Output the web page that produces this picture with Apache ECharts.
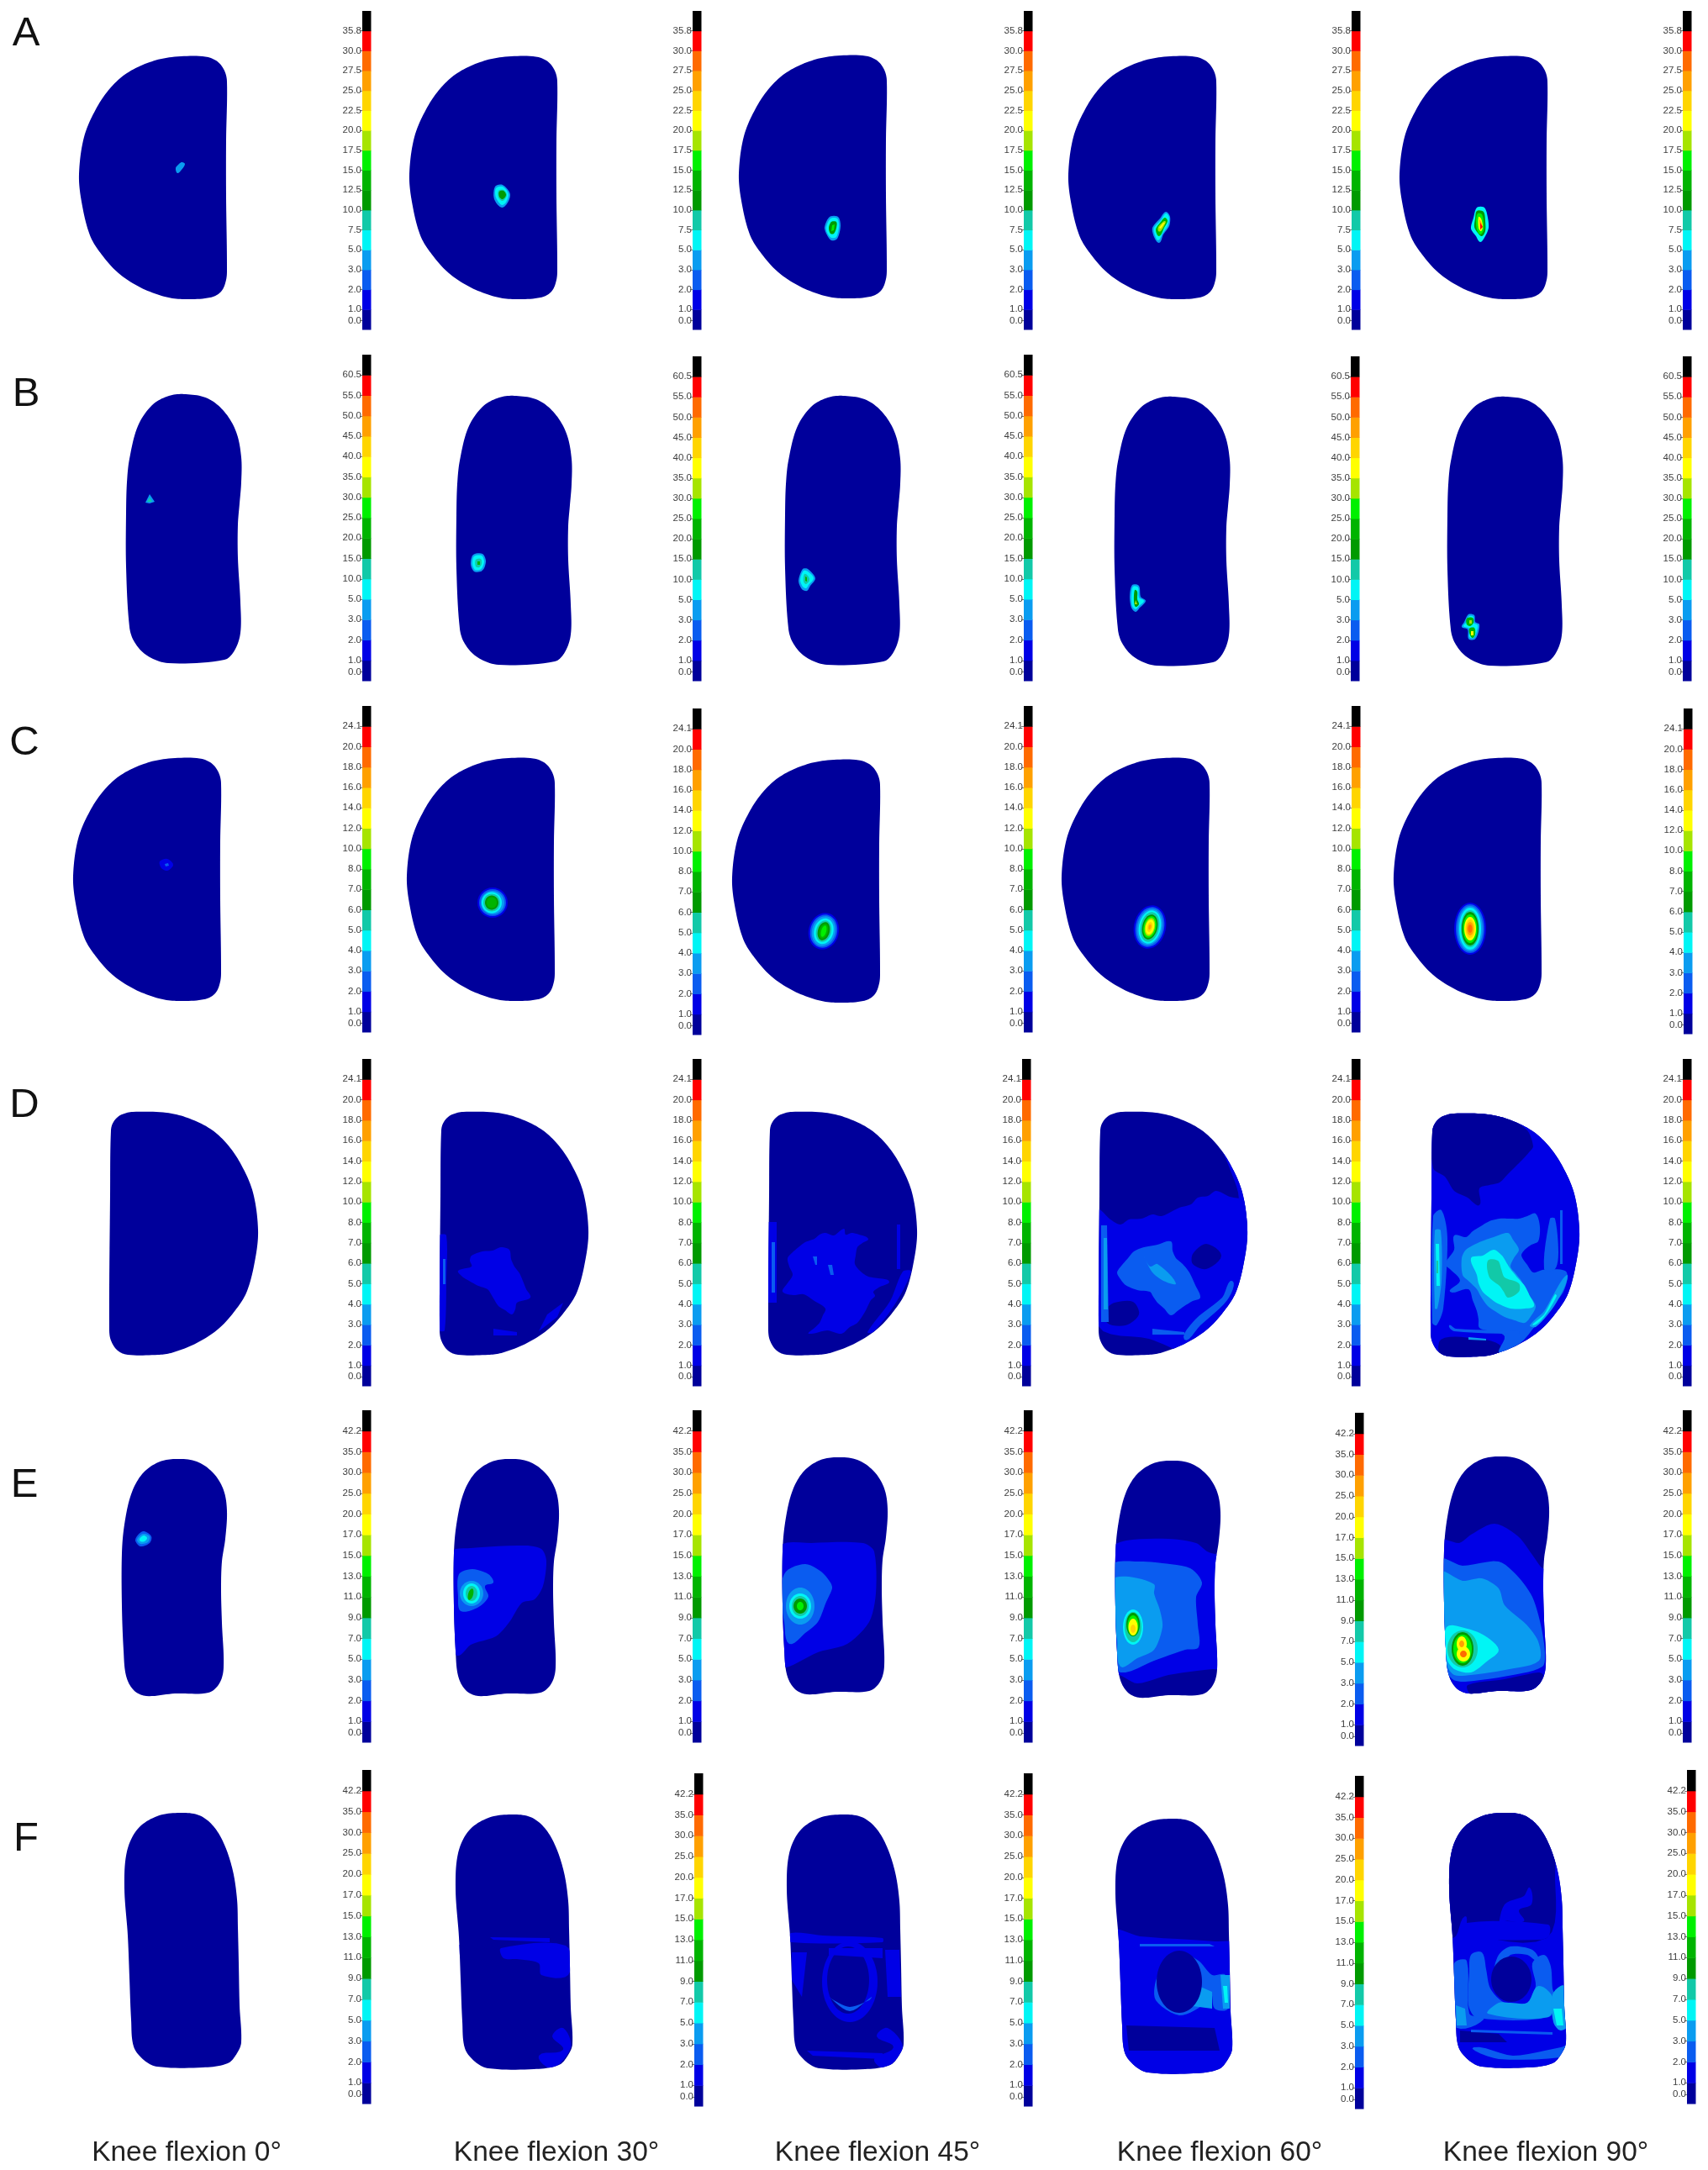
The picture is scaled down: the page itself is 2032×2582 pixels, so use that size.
<!DOCTYPE html>
<html>
<head>
<meta charset="utf-8">
<title>Knee flexion contact pressure maps</title>
<script src="https://cdn.jsdelivr.net/npm/echarts@6/dist/echarts.min.js"></script>
<style>
html,body{margin:0;padding:0;background:#fff}
#chart{width:2032px;height:2582px;filter:blur(0.6px)}
</style>
</head>
<body>
<div id="chart"></div>
<script>
// ---------- text ----------
const rowLetters = ['A','B','C','D','E','F'];
const columnTitles = ['Knee flexion 0°','Knee flexion 30°','Knee flexion 45°','Knee flexion 60°','Knee flexion 90°'];

// ---------- scale tick labels (top to bottom) ----------
const ticksA = ['35.8','30.0','27.5','25.0','22.5','20.0','17.5','15.0','12.5','10.0','7.5','5.0','3.0','2.0','1.0','0.0'];
const ticksB = ['60.5','55.0','50.0','45.0','40.0','35.0','30.0','25.0','20.0','15.0','10.0','5.0','3.0','2.0','1.0','0.0'];
const ticksCD = ['24.1','20.0','18.0','16.0','14.0','12.0','10.0','8.0','7.0','6.0','5.0','4.0','3.0','2.0','1.0','0.0'];
const ticksEF = ['42.2','35.0','30.0','25.0','20.0','17.0','15.0','13.0','11.0','9.0','7.0','5.0','3.0','2.0','1.0','0.0'];
const levelColors = ['#00009b','#0000e6','#0a5cf0','#0a9cf0','#00f5f5','#12c9a8','#009a00','#00b400','#00f000','#a6e400','#ffff00','#ffd500','#ffa000','#ff6a00','#ff0000','#000000'];

// ---------- outlines ----------
const outlineHalf = [147,0,163,5,172.5,16,176,30,175,100,175,167,176,250,175,266,169,280,156,287,125,289,102,286,73,275,47,258,27,236,13,213,3,173,0,140,6,96,20,63,37,38,57,20,84,7,110,1];
const outlineHalfR = [2,22,1,99,0,259,2,272,10,284,22,289,58,289,75,286.5,104,275,130,258,150,236,164,213,174,173,177,140,171,96,157,63,140,38,120,20,93,7,68,1,28,0,13,4,5,12];
const outlineB = [71,0,97,5,117,21,131,45,137,75,137,105,135,130,133,155,133,195,136,248,136,284,129,305,117,316,50,320,25,311,10,295,4,277,0,205,0,141,1,105,4,77,14,38,31,13,51,2];
const outlineE = [63,0,89,3,109,17,121,37,125,62,123,95,119,122,118,155,119,195,121,248,116,267,103,278,63,279,29,282,14,275,5,258,2,228,0,175,0,112,3,78,11,42,24,18,43,4];
const outlineF = [66,0,89,3,106,16,119,38,129,69,134,103,135,136,136,179,137,229,139,273,134,286,123,298,93,303,39,302,23,294,11,278,8,246,6,196,4,146,0,89,3,46,16,19,39,4];

// ---------- contour regions: [level,[x,y,...]] polygons or [level,cx,cy,rx,ry,deg] ellipses ----------
const regA1 = [[3,[122,126,126,128,122,135,117,139,115,133,118,129]]];
const regA2 = [[3,[102,155,111,153,120,165,111,180,101,170]],[4,[103,157,111,155,118,165,111,177,103,168]],[5,[106,160,112,159,116,165,111,172,106,168]],[6,[107,161,112,160,115,165,111,170,107,167]]];
const regA3 = [[3,[108,192,118,192,121,203,117,218,110,220,104,212,102,204]],[4,[109,194,117,194,119,203,116,216,110,217,105,211,104,204]],[6,[110,198,116,198,116,205,113,212,109,212,107,205]],[8,[111,202,114,201,113,208,110,209]]];
const regA4 = [[3,[116,185,121,191,120,202,113,212,108,222,102,215,100,204,109,193]],[4,[116,187,120,192,118,202,112,211,107,219,103,213,102,204,110,195]],[7,[115,192,118,196,114,204,108,214,104,206,110,197]],[9,[114,196,116,197,110,208,107,208,107,203]],[10,[113,198,115,198,110,205,108,204]]];
const regA5 = [[4,[92,180,101,180,105,192,106,204,102,214,96,221,91,214,85,205,88,192]],[6,[92,184,100,185,102,196,102,208,98,214,93,210,89,203,90,193]],[8,[93,187,98,188,100,198,100,207,96,212,92,206,91,196]],[10,[94,191,97,193,99,202,97,208,94,204]],[12,[95,194,97,197,99,203,96,207]],[14,[96,198,99,203,96,206]]];

const regB1 = [[3,[28,119,34,128,28,130,23,129]],[5,[28,123,31,128,25,128]]];
const regB2 = [[3,[20,189,31,188,35,196,33,205,29,209,21,209,17,200]],[4,[21,191,30,190,33,197,31,204,28,207,22,207,19,200]],[5,[23,195,29,194,30,200,27,204,23,203]],[7,[25,197,28,197,28,201,25,201]]];
const regB3 = [[3,[21,206,27,206,36,217,30,226,26,232,20,230,16,220]],[4,[22,208,27,209,34,217,28,225,25,229,21,227,18,219]],[5,[23,212,27,214,29,219,25,224,22,221]],[7,[24,215,26,216,26,221,24,220]]];
const regB4 = [[3,[21,224,29,225,31,238,37,243,30,251,25,256,20,251,18,238]],[4,[22,226,28,227,29,239,35,243,29,249,25,253,21,249,20,238]],[6,[24,230,27,232,27,241,29,247,25,250,23,243]],[9,[25,242,27,247,24,247]]];
const regB5 = [[3,[25,259,32,260,33,268,38,271,36,283,32,289,25,288,24,277,17,274,20,268]],[4,[26,261,31,262,31,269,36,272,34,282,31,287,26,286,26,276,19,273,22,269]],[7,[23,264,30,263,31,269,27,273,23,271]],[7,[26,276,32,275,33,283,30,287,27,284]],[9,[26,266,29,266,29,270,26,270]],[10,[28,279,31,279,31,284,28,284]]];

const regC1 = [[1,[103,123,112,120,119,127,112,134,105,131]],[2,[109,126,113,125,114,128,110,129]]];
const regC2 = [[1,102,172,18,18,0],[2,102,172,16,16,0],[3,102,172,14,14,0],[4,101,172,12,12.5,0],[5,101,172,10,10.5,0],[6,101,172,8,8.5,0],[7,101,172,6,6.5,0]];
const regC3 = [[1,109,204,18,22,15],[2,109,204,16,20,15],[3,109,204,14,18,15],[4,109,204,11.5,15.5,15],[5,109,204,9,13,15],[6,109,204,7,11,15],[7,109,204,5,9,15],[8,109,204,3,7,15]];
const regC4 = [[1,105,201,19,26,12],[2,105,201,17,24,12],[3,105,201,15,22,12],[4,105,201,13,20,12],[5,105,201,11,18,12],[6,105,201,9,15,12],[8,105,201,7.5,13,12],[9,105,201,6,11,12],[10,105,201,5,9,12],[11,105,201,3,6,12],[12,105,201,1.5,3,12]];
const regC5 = [[1,91,203,19,31,0],[2,91,203,17,29,0],[3,91,203,15,27,0],[4,91,203,13,25,0],[5,91,203,11,22,0],[6,91,203,10,20,0],[8,91,203,8.5,17,0],[10,91,203,7,14,0],[11,91,203,5.5,11,0],[12,91,203,4,8,0],[13,91,203,2.5,5,0]];

const regD1 = [];
const regD2 = [[1,[73,161,83,164,85,175,89,184,95,192,99,201,103,211,108,221,92,227,90,235,86,241,78,236,70,231,63,220,57,211,46,207,35,201,27,196,22,189,38,184,36,177,38,171,51,166,63,165]],[1,[0,147,8,147,8,200,6,260,0,260]],[2,[4,175,7,175,7,205,4,205]],[1,[128,241,147,227,140,244,118,261]],[1,[64,258,92,262,92,266,64,266]]];
const regD3 = [[1,[68,144,78,147,90,139,92,146,99,144,108,146,119,151,112,156,106,161,104,171,103,181,110,190,119,196,131,198,144,202,133,208,125,214,127,219,122,224,115,238,106,251,97,256,87,264,70,260,48,264,55,257,61,251,65,242,68,234,55,225,42,217,30,218,17,214,22,205,29,194,25,184,23,174,29,167,36,161,44,155,55,151,61,146]],[1,[0,131,10,131,10,227,0,227]],[2,[4,155,8,155,8,215,4,215]],[2,[53,172,58,172,58,182,56,182]],[2,[71,182,76,182,78,194,74,194]],[1,[153,134,157,134,157,187,153,187]],[1,[160,190,170,190,150,230,125,262,118,262,145,225]]];
const regD4 = [[1,[0,117,14,128,26,134,36,128,51,127,64,122,75,124,96,114,110,110,118,102,130,100,140,94,156,101,185,110,185,300,115,300,95,285,60,270,0,255]],[1,[134,25,145,42,155,65,166,96,170,140,185,140,185,10]],[0,[112,169,128,157,146,171,128,187,112,181]],[0,[19,227,41,226,48,241,32,254,10,251,10,234]],[2,[54,161,70,158,86,154,88,165,92,174,100,181,108,191,115,206,121,221,112,225,102,231,95,236,86,242,78,234,70,227,65,220,61,214,46,212,32,206,26,199,22,191,28,182,35,174,42,166]],[3,[54,172,61,184,70,181,92,204,77,201,64,191]],[2,[3,135,10,135,12,250,3,250]],[3,[6,150,10,150,11,235,6,235]],[2,[159,201,147,221,115,247,102,271,121,254,153,224]],[2,[64,258,102,262,102,265,64,265]]];
const regD5 = [[1,[-5,-5,185,-5,185,295,-5,295]],[0,[3,-3,48,-3,88,3,115,20,122,39,118,45,110,54,102,62,92,72,82,82,70,85,58,89,58,109,44,100,28,92,17,75,3,65]],[0,[12,269,48,267,82,275,78,291,15,293]],[2,[28,145,42,147,50,140,58,135,70,128,82,125,95,125,105,125,115,122,125,119,130,135,128,152,120,156,112,162,108,169,115,180,122,189,133,186,145,185,162,189,158,212,142,232,125,252,108,272,82,285,88,265,72,259,58,255,57,245,55,235,50,222,45,209,23,212,35,199,23,185,17,179,28,162]],[2,[142,125,148,125,152,165,148,185,135,185]],[2,[3,122,13,115,20,149,15,232,7,252,2,249]],[3,[5,139,12,139,13,199,8,232,5,232]],[4,[6,155,10,155,11,205,7,205]],[5,[7,175,9,175,9,190,7,190]],[3,[42,162,58,153,75,147,92,142,98,150,105,162,99,172,95,182,101,190,108,199,116,214,125,229,120,240,112,249,100,246,88,242,78,236,68,229,60,218,55,209,46,200,38,192,37,172]],[4,[48,172,62,169,75,162,85,169,90,177,95,185,104,196,112,205,118,217,123,229,112,232,95,232,78,225,70,219,62,212,57,202,55,192]],[5,[68,175,80,175,84,185,88,195,105,202,105,212,92,219,87,212,82,205,70,195]],[3,[162,192,148,212,135,235,118,252,125,254,145,232,160,205]],[4,[148,215,135,239,122,252,137,239,150,217]],[2,[22,252,28,259,105,262,105,259,30,256]],[2,[154,115,157,115,157,179,154,179]],[3,[45,266,66,268,66,270,45,269]]];

const regE1 = [[2,[16,96,25,86,35,92,33,100,22,104]],[3,[18,96,25,89,33,92,31,99,22,101]],[4,[21,95,26,91,30,94,27,98,22,98]]];
const regE2 = [[1,[-3,111,20,106,85,103,104,107,110,121,106,151,96,167,81,171,66,194,50,211,20,221,6,234,-3,227]],[2,[6,137,22,131,41,137,47,147,37,151,41,164,28,177,8,181,5,164]],[3,21,160,14,15,0],[4,21,160,10,12,0],[5,21,160,7,9,0],[7,20,161,3,7,15]];
const regE3 = [[1,[-3,107,34,102,96,102,109,112,111,162,103,196,77,222,42,232,8,249,-3,249]],[2,[4,136,27,127,46,136,57,149,59,156,52,172,42,196,27,209,8,222,2,196,-3,162]],[3,21,177,17,22,0],[4,21,177,13,15,0],[5,21,177,10,12,0],[6,21,177,8,9,0],[8,21,177,4,5,0]];
const regE4 = [[1,[-5,105,13,95,63,93,96,98,109,108,135,120,135,248,116,248,63,255,26,265,5,255,-5,255]],[2,[-5,125,29,120,56,122,89,128,103,145,96,162,98,195,99,222,83,225,46,238,6,252,-5,228]],[3,[-5,142,16,138,46,147,46,158,53,178,56,198,46,225,26,235,6,245,2,212,-5,175]],[4,21,198,12,21,0],[5,21,198,10,18,0],[6,21,195,8,14,0],[8,21,196,6.5,12,0],[10,21,198,5.5,10,0],[11,21,200,3,5,0]];
const regE5 = [[1,[-5,100,18,103,32,93,60,80,88,95,105,117,117,133,135,140,135,300,-5,300]],[0,[28,272,72,265,112,257,118,260,112,273,95,280,32,283]],[2,[-5,123,22,130,65,125,88,143,105,167,115,200,120,233,117,250,82,260,25,268,10,265,-5,243]],[3,[-5,138,22,148,45,145,65,157,72,177,98,200,112,220,113,243,78,253,32,260,12,260,3,247]],[4,[3,203,28,205,48,213,65,230,52,243,32,257,12,253,3,240]],[5,22,229,18,22,0],[6,22,229,13,20,0],[8,22,229,11,17,0],[10,21,223,6,9,0],[10,23,235,8,9,0],[12,21,223,3,4,0],[13,23,235,4,4,0]];

const regF1 = [];
const regF2 = [[1,[41,146,112,147,112,152,45,149]],[1,[54,159,131,156,134,191,102,191,99,177,73,172,57,171]],[1,[0,155,5,155,5,175,0,175]],[1,[128,254,137,277,115,302,99,287,128,280,115,264]]];
const regF3 = [[1,[5,141,43,144,114,147,114,152,5,152]],[1,75,199,33,48,0],[0,73,197,25,40,0],[1,[50,159,114,159,114,171,50,167]],[1,[117,161,134,161,136,217,120,217]],[1,[6,164,24,164,18,217,6,197]],[2,[50,217,75,234,101,217,98,221,75,229,56,221]],[1,[24,281,114,284,114,291,31,287]],[1,[120,254,138,277,117,302,104,291,127,277,107,264]]];
const regF4 = [[1,[-5,134,29,140,118,146,145,150,145,310,-5,310]],[0,[13,246,118,249,124,276,16,276]],[2,[61,169,76,159,99,169,115,186,131,186,134,226,118,226,112,206,102,223,76,234,48,216,48,193]],[3,[99,199,115,206,115,226,92,223]],[3,[125,186,136,186,136,226,128,226]],[4,[128,199,133,199,134,219,130,219]],[0,76,194,27,37,0],[2,[29,149,112,149,118,152,29,152]]];
const regF5 = [[1,[-5,-5,145,-5,145,310,-5,310]],[0,[-5,-5,113,-5,126,79,116,149,23,143,19,123,5,149,-5,129]],[1,[66,109,89,99,96,89,98,109,83,116,89,129,66,129,59,139]],[1,[21,131,118,133,119,146,109,151,26,148]],[2,[6,179,21,176,24,239,41,246,9,256,6,229]],[2,[24,189,26,169,39,166,44,186,49,209,66,226,93,226,103,206,99,179,113,169,121,183,123,209,126,219,119,243,33,244,23,229]],[2,[59,169,73,159,99,163,106,176,93,169,73,169,56,186]],[3,[46,239,59,226,73,226,93,226,106,206,123,219,118,243]],[3,[8,229,19,233,21,253,9,253]],[3,[123,216,137,206,145,249,133,259,124,249]],[4,[124,233,134,233,136,253,128,253]],[0,74,198,24,27,0],[0,[13,259,59,263,69,273,13,273]],[2,[26,258,123,261,123,264,26,261]],[2,[29,279,76,289,133,279,145,276,145,289,59,293]]];

const rowRegions = [[regA1,regA2,regA3,regA4,regA5],[regB1,regB2,regB3,regB4,regB5],[regC1,regC2,regC3,regC4,regC5],[regD1,regD2,regD3,regD4,regD5],[regE1,regE2,regE3,regE4,regE5],[regF1,regF2,regF3,regF4,regF5]];
const rowOutlines = [outlineHalf,outlineB,outlineHalf,outlineHalfR,outlineE,outlineF];
const rowTicks = [ticksA,ticksB,ticksCD,ticksCD,ticksEF,ticksEF];

// ---------- layout ----------
const shapeLayout = {
  extent: [[177,290],[137,320],[177,290],[178,290],[125,282],[139,304]],
  left: [[94,487,879,1271,1665],[150,543,934,1326,1722],[87,484,871,1263,1658],[130,523,914,1307,1702],[145,540,931,1327,1718],[148,542,936,1327,1724]],
  top: [[67,67,66,67,67],[469,471,471,472,472],[902,902,904,902,902],[1323,1323,1323,1323,1325],[1736,1736,1734,1738,1733],[2157,2159,2159,2164,2157]]
};
const barLayout = {
  left: [[431,824,1218,1608,2002],[431,824,1218,1607,2002],[431,824,1218,1608,2003],[431,824,1216,1608,2002],[431,824,1218,1612,2002],[431,826,1218,1612,2007]],
  top: [[13,13,13,13,13],[422,424,422,424,424],[840,843,840,840,843],[1260,1260,1260,1260,1260],[1678,1678,1678,1681,1678],[2106,2110,2110,2113,2106]],
  bottom: [[392,392,392,392,392],[810,810,810,810,810],[1228,1231,1228,1228,1230],[1649,1649,1649,1649,1649],[2073,2073,2073,2077,2073],[2503,2506,2506,2509,2503]]
};
const scalePositions = [15,14,13,12,11,10,9,8,7,6,5,4,3,2,1,0.44];
const letterPos = [[26,35],[26,464],[24,879],[24,1310],[24,1762],[26,2183]];
const titleX = [217,657,1039,1446,1834];
const titleY = 2557;

// ---------- helpers ----------
function polyPoints(api, flat){
  const pts = [];
  for(let i=0;i<flat.length;i+=2){ pts.push(api.coord([flat[i],flat[i+1]])); }
  return pts;
}
// rounds a closed ring of projected points; the curve passes through every read point
function roundRing(pts, k, steps){
  const n = pts.length, out = [];
  const unit = (a,b)=>{ const dx=b[0]-a[0],dy=b[1]-a[1],l=Math.hypot(dx,dy)||1; return [dx/l,dy/l]; };
  for(let i=0;i<n;i++){
    const p0=pts[(i-1+n)%n],p1=pts[i],p2=pts[(i+1)%n],p3=pts[(i+2)%n];
    const L=Math.hypot(p2[0]-p1[0],p2[1]-p1[1])*k;
    const t1=unit(p0,p2),t2=unit(p1,p3);
    for(let j=0;j<steps;j++){
      const s=j/steps,s2=s*s,s3=s2*s;
      const h00=2*s3-3*s2+1,h10=s3-2*s2+s,h01=-2*s3+3*s2,h11=s3-s2;
      out.push([h00*p1[0]+h10*L*t1[0]+h01*p2[0]+h11*L*t2[0],
                h00*p1[1]+h10*L*t1[1]+h01*p2[1]+h11*L*t2[1]]);
    }
  }
  return out;
}
function regionElement(api, reg){
  const fill = levelColors[reg[0]];
  if(Array.isArray(reg[1])){
    let pts = polyPoints(api,reg[1]);
    if(pts.length>=5){ pts = roundRing(pts,0.8,6); }
    return {type:'polygon',shape:{points:pts},style:{fill:fill},silent:true};
  }
  const c = api.coord([reg[1],reg[2]]);
  const s = api.size([reg[3],reg[4]]);
  return {type:'ellipse',x:c[0],y:c[1],rotation:-(reg[5]||0)*Math.PI/180,shape:{cx:0,cy:0,rx:s[0],ry:s[1]},style:{fill:fill},silent:true};
}
function makeShapeRender(outline, regions){
  return function(params, api){
    const pts = roundRing(polyPoints(api, outline),1,10);
    return {type:'group',children:[
      {type:'polygon',shape:{points:pts},style:{fill:levelColors[0]},silent:true},
      {type:'group',
       clipPath:{type:'polygon',shape:{points:pts}},
       children:regions.map(r=>regionElement(api,r))}
    ]};
  };
}
function renderCell(params, api){
  const i = api.value(0);
  const a = api.coord([0,i+1]);
  const b = api.coord([1,i]);
  return {type:'rect',shape:{x:a[0],y:a[1],width:b[0]-a[0],height:b[1]-a[1]+0.5},style:{fill:levelColors[i]},silent:true};
}

// ---------- option ----------
const grids=[],xAxes=[],yAxes=[],series=[];
rowLetters.forEach((_,r)=>{
  columnTitles.forEach((_,c)=>{
    const ext = shapeLayout.extent[r];
    // contour map panel
    let g = grids.length;
    grids.push({left:shapeLayout.left[r][c],top:shapeLayout.top[r][c],width:ext[0],height:ext[1]});
    xAxes.push({type:'value',gridIndex:g,min:0,max:ext[0],show:false});
    yAxes.push({type:'value',gridIndex:g,min:0,max:ext[1],inverse:true,show:false});
    series.push({type:'custom',coordinateSystem:'cartesian2d',xAxisIndex:g,yAxisIndex:g,clip:false,silent:true,
      data:[[0,0]],renderItem:makeShapeRender(rowOutlines[r],rowRegions[r][c])});
    // colour scale
    g = grids.length;
    const tickLabels = rowTicks[r];
    grids.push({left:barLayout.left[r][c],top:barLayout.top[r][c],width:10.5,height:barLayout.bottom[r][c]-barLayout.top[r][c]});
    xAxes.push({type:'value',gridIndex:g,min:0,max:1,show:false});
    yAxes.push({type:'value',gridIndex:g,min:0,max:16,
      axisLine:{show:false},splitLine:{show:false},
      axisTick:{show:true,length:3,customValues:scalePositions,lineStyle:{color:'#777',width:1}},
      axisLabel:{show:true,customValues:scalePositions,margin:1,fontFamily:'Liberation Sans',fontSize:11.5,color:'#3c3c3c',
        formatter:function(v){ const k=scalePositions.findIndex(p=>Math.abs(p-v)<1e-6); return k>=0?tickLabels[k]:''; }}});
    series.push({type:'custom',coordinateSystem:'cartesian2d',xAxisIndex:g,yAxisIndex:g,silent:true,
      data:levelColors.map((_,i)=>[i]),encode:{y:0},renderItem:renderCell});
  });
});
const titles = [];
rowLetters.forEach((t,i)=>titles.push({text:t,left:letterPos[i][0],top:letterPos[i][1],textAlign:'center',textVerticalAlign:'middle',
  textStyle:{fontFamily:'Liberation Sans',fontSize:49,fontWeight:'normal',color:'#111'}}));
columnTitles.forEach((t,i)=>titles.push({text:t,left:titleX[i],top:titleY,textAlign:'center',textVerticalAlign:'middle',
  textStyle:{fontFamily:'Liberation Sans',fontSize:33.5,fontWeight:'normal',color:'#222'}}));

const chart = echarts.init(document.getElementById('chart'),null,{renderer:'canvas'});
chart.setOption({animation:false,backgroundColor:'#ffffff',title:titles,grid:grids,xAxis:xAxes,yAxis:yAxes,series:series,tooltip:{show:false}});
</script>
</body>
</html>
